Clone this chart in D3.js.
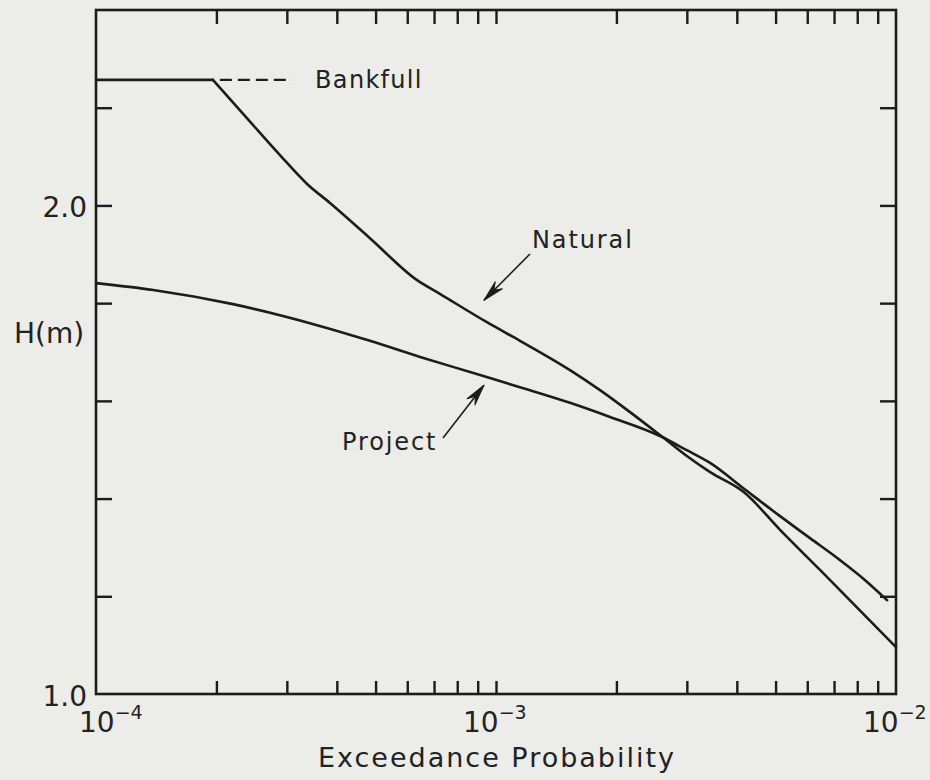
<!DOCTYPE html>
<html>
<head>
<meta charset="utf-8">
<script src="https://cdn.jsdelivr.net/npm/d3@7"></script>
<style>
  html, body { margin: 0; padding: 0; background: #ecece9; }
  svg { display: block; }
  text { font-family: "DejaVu Sans", sans-serif; fill: #222; }
</style>
</head>
<body>
<svg id="chart" width="930" height="780"></svg>
<script>
// Stage H (m) against exceedance probability for the natural and project channels
const naturalP = [1e-4, 1.96e-4, 2.43e-4, 2.884e-4, 3.37e-4, 3.846e-4, 4.84e-4, 6.35e-4, 7.24e-4,
  9.49e-4, 1.148e-3, 1.531e-3, 1.82e-3, 2.163e-3, 2.57e-3, 3.0e-3, 3.43e-3,
  4.17e-3, 5.13e-3, 6.457e-3, 1e-2];
const naturalH = [2.257, 2.257, 2.171, 2.103, 2.044, 2.005, 1.933, 1.847, 1.819,
  1.761, 1.723, 1.663, 1.622, 1.577, 1.530, 1.487, 1.454,
  1.413, 1.336, 1.254, 1.096];

const projectP = [1e-4, 1.39e-4, 2.2e-4, 3.57e-4, 4.84e-4, 6.46e-4, 8.61e-4, 1.148e-3, 1.531e-3,
  1.928e-3, 2.57e-3, 3.0e-3, 3.43e-3, 4.17e-3, 5.13e-3, 6.095e-3, 7.244e-3, 8.37e-3, 9.5e-3];
const projectH = [1.841, 1.827, 1.798, 1.755, 1.723, 1.690, 1.659, 1.628, 1.596,
  1.567, 1.528, 1.499, 1.473, 1.420, 1.364, 1.319, 1.274, 1.233, 1.192];

// Bankfull stage and the dashed extension drawn beside its label
const bankfullH = 2.257;
const bankfullDashP = [2.04e-4, 3.09e-4];

// Axis ticks and labels
const yTickValues = [1.2, 1.4, 1.6, 1.8, 2.0, 2.2];
const yLabelValues = [1.0, 2.0];
const xLabelValues = [1e-4, 1e-3, 1e-2];
const xLabelBase = ["10", "10", "10"];
const xLabelExponents = ["\u22124", "\u22123", "\u22122"];
const xTitle = "Exceedance Probability";
const yTitle = "H(m)";

// Curve annotations: label anchor and arrow from/to, in data units
const annotationText = ["Natural", "Project"];
const annotationLabelAt = [[1.23e-3, 1.913], [4.12e-4, 1.499]];
const annotationArrowFrom = [[1.216e-3, 1.9006], [7.37e-4, 1.524]];
const annotationArrowTo = [[9.33e-4, 1.806], [9.33e-4, 1.632]];
const bankfullLabel = "Bankfull";
const bankfullLabelAt = [3.53e-4, 2.240];

const svg = d3.select("#chart");
const ink = "#1c1c1c";

const x = d3.scaleLog().domain([1e-4, 1e-2]).range([96, 896]);
const y = d3.scaleLinear().domain([1.0, 2.4]).range([694, 10]);

// Frame
svg.append("rect")
  .attr("x", x.range()[0]).attr("y", y.range()[1])
  .attr("width", x.range()[1] - x.range()[0])
  .attr("height", y.range()[0] - y.range()[1])
  .attr("fill", "none").attr("stroke", ink).attr("stroke-width", 2.6);

// Inward minor ticks on all four sides
const xTicks = x.ticks().filter(v => v > 1.0001e-4 && v < 0.9999e-2);
function styleAxis(g) {
  g.select(".domain").remove();
  g.selectAll(".tick line").attr("stroke", ink).attr("stroke-width", 2.4);
  g.selectAll(".tick text").remove();
}
svg.append("g").attr("transform", `translate(0,${y.range()[0]})`)
  .call(d3.axisBottom(x).tickValues(xTicks).tickSize(-13).tickFormat(""))
  .call(styleAxis);
svg.append("g").attr("transform", `translate(0,${y.range()[1]})`)
  .call(d3.axisTop(x).tickValues(xTicks).tickSize(-14).tickFormat(""))
  .call(styleAxis);
svg.append("g").attr("transform", `translate(${x.range()[0]},0)`)
  .call(d3.axisLeft(y).tickValues(yTickValues).tickSize(-16).tickFormat(""))
  .call(styleAxis);
svg.append("g").attr("transform", `translate(${x.range()[1]},0)`)
  .call(d3.axisRight(y).tickValues(yTickValues).tickSize(-16).tickFormat(""))
  .call(styleAxis);

// Y tick labels
svg.selectAll(".ylab").data(yLabelValues).join("text")
  .attr("class", "ylab")
  .attr("x", x.range()[0] - 9)
  .attr("y", d => y(d) + 12)
  .attr("text-anchor", "end")
  .attr("font-size", 28)
  .text(d => d.toFixed(1));

// X tick labels as powers of ten
const xl = svg.selectAll(".xlab").data(xLabelValues).join("text")
  .attr("class", "xlab")
  .attr("x", (d, i) => x(d) + (i === 0 ? -17 : -33))
  .attr("y", y.range()[0] + 38)
  .attr("font-size", 28);
xl.append("tspan").text((d, i) => xLabelBase[i]);
xl.append("tspan").attr("dy", -13).attr("font-size", 19)
  .text((d, i) => xLabelExponents[i]);

// Axis titles
svg.append("text")
  .attr("x", (x.range()[0] + x.range()[1]) / 2 + 1)
  .attr("y", 767)
  .attr("text-anchor", "middle")
  .attr("font-size", 27)
  .attr("letter-spacing", 2)
  .text(xTitle);
svg.append("text")
  .attr("x", 14).attr("y", 343)
  .attr("font-size", 28)
  .text(yTitle);

// Curves
const natural = naturalP.map((p, i) => ({ p, h: naturalH[i] }));
const project = projectP.map((p, i) => ({ p, h: projectH[i] }));
const flatEnd = naturalH.findIndex(h => h < bankfullH);

const straight = d3.line().x(d => x(d.p)).y(d => y(d.h));
const smooth = d3.line().x(d => x(d.p)).y(d => y(d.h)).curve(d3.curveMonotoneX);

const curveStyle = sel => sel.attr("fill", "none").attr("stroke", ink)
  .attr("stroke-width", 2.6).attr("stroke-linejoin", "round").attr("stroke-linecap", "round");

svg.append("path").attr("d", straight(natural.slice(0, flatEnd))).call(curveStyle);
svg.append("path").attr("d", smooth(natural.slice(flatEnd - 1))).call(curveStyle);
svg.append("path").attr("d", smooth(project)).call(curveStyle);

// Bankfull dashed extension and label
svg.append("line")
  .attr("x1", x(bankfullDashP[0])).attr("x2", x(bankfullDashP[1]))
  .attr("y1", y(bankfullH)).attr("y2", y(bankfullH))
  .attr("stroke", ink).attr("stroke-width", 2.4)
  .attr("stroke-dasharray", "12,6");
svg.append("text")
  .attr("x", x(bankfullLabelAt[0])).attr("y", y(bankfullLabelAt[1]))
  .attr("font-size", 24).attr("letter-spacing", 1.3)
  .text(bankfullLabel);

// Annotation labels with barbed leader arrows
annotationText.forEach((t, i) => {
  svg.append("text")
    .attr("x", x(annotationLabelAt[i][0])).attr("y", y(annotationLabelAt[i][1]))
    .attr("font-size", 24).attr("letter-spacing", 1.9)
    .text(t);
  const x0 = x(annotationArrowFrom[i][0]), y0 = y(annotationArrowFrom[i][1]);
  const x1 = x(annotationArrowTo[i][0]), y1 = y(annotationArrowTo[i][1]);
  svg.append("line")
    .attr("x1", x0).attr("y1", y0).attr("x2", x1).attr("y2", y1)
    .attr("stroke", ink).attr("stroke-width", 1.6);
  const ang = Math.atan2(y1 - y0, x1 - x0) * 180 / Math.PI;
  svg.append("path")
    .attr("d", "M0,0 L-21,-5 L-14,0 L-21,5 Z")
    .attr("transform", `translate(${x1},${y1}) rotate(${ang})`)
    .attr("fill", ink).attr("stroke", ink).attr("stroke-width", 1)
    .attr("stroke-linejoin", "round");
});
</script>
</body>
</html>
